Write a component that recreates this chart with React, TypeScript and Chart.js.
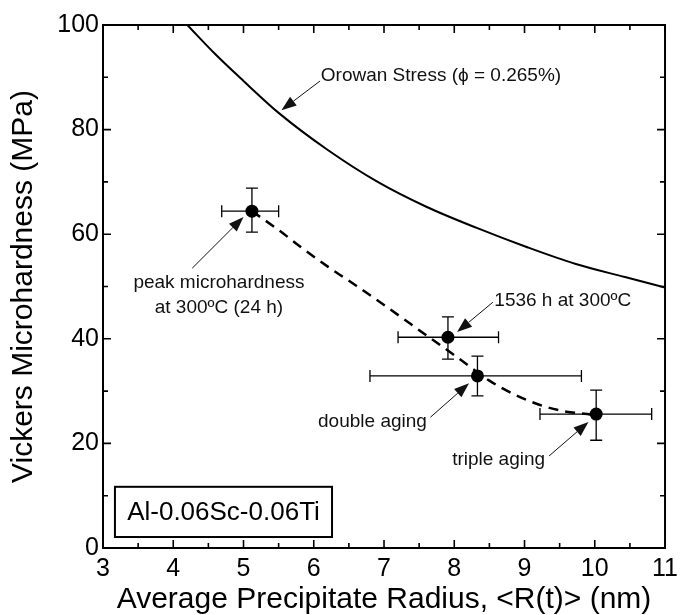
import { useEffect, useRef } from "react";
import { Chart, registerables } from "chart.js";
Chart.register(...registerables);

const FONT = '"Liberation Sans", Arial, Helvetica, sans-serif';

// Axis ticks
const xTicks = [3, 4, 5, 6, 7, 8, 9, 10, 11];
const xMinorTicks = [3.5, 4.5, 5.5, 6.5, 7.5, 8.5, 9.5, 10.5];
const yTicks = [0, 20, 40, 60, 80, 100];
const yMinorTicks = [10, 30, 50, 70, 90];

// Orowan stress curve (phi = 0.265%)
const orowanR = [4.2, 4.6, 5.0, 5.5, 6.2, 6.91, 7.61, 8.32, 9.02, 9.73, 10.43, 11.0];
const orowanHV = [100, 94.4, 89.3, 83.2, 76.1, 70.0, 65.2, 61.2, 57.6, 54.3, 51.8, 49.8];

// Dashed trend line through the measurements
const trendR = [5.12, 5.5, 5.82, 6.2, 6.6, 6.9, 7.3, 7.61, 8.04, 8.5, 8.88, 9.21, 9.54, 9.95];
const trendHV = [64.4, 60.8, 57.5, 53.8, 50.2, 47.4, 43.6, 40.6, 36.5, 32.0, 29.2, 27.4, 26.2, 25.5];

// Measurements with error bars
const sampleR = [5.12, 7.91, 8.33, 10.02];
const sampleHV = [64.4, 40.3, 32.9, 25.6];
const rLow = [4.69, 7.2, 6.8, 9.22];
const rHigh = [5.5, 8.63, 9.81, 10.81];
const hvLow = [60.4, 36.1, 29.1, 20.6];
const hvHigh = [68.8, 44.2, 36.7, 30.2];

// Annotation texts (positions in data units)
const noteLines = [
  ["Orowan Stress (\u03d5 = 0.265%)"],
  ["peak microhardness", "at 300\u00baC (24 h)"],
  ["1536 h at 300\u00baC"],
  ["double aging"],
  ["triple aging"],
];
const noteAlign = ["left", "center", "left", "right", "left"];
const noteX = [6.1, 4.65, 8.57, 7.61, 7.97];
const noteY = [90.3, 50.7, 47.2, 24.1, 16.8];
const arrowTail = [
  [6.09, 89.3],
  [4.27, 53.5],
  [8.55, 47.0],
  [7.66, 25.0],
  [9.35, 17.6],
];
const arrowTip = [
  [5.54, 83.7],
  [5.0, 63.3],
  [8.04, 41.3],
  [8.21, 31.5],
  [9.91, 24.1],
];

const boxLabel = "Al-0.06Sc-0.06Ti";
const boxR = [3.17, 6.26];
const boxHV = [2.1, 11.7];

const drawArrow = (ctx: CanvasRenderingContext2D, x0: number, y0: number, x1: number, y1: number) => {
  const ang = Math.atan2(y1 - y0, x1 - x0);
  const len = 15;
  const hw = 5.5;
  const bx = x1 - len * Math.cos(ang);
  const by = y1 - len * Math.sin(ang);
  ctx.beginPath();
  ctx.moveTo(x0, y0);
  ctx.lineTo(bx, by);
  ctx.stroke();
  ctx.beginPath();
  ctx.moveTo(x1, y1);
  ctx.lineTo(bx + hw * Math.sin(ang), by - hw * Math.cos(ang));
  ctx.lineTo(bx - hw * Math.sin(ang), by + hw * Math.cos(ang));
  ctx.closePath();
  ctx.fill();
};

const decorPlugin = {
  id: "decor",
  beforeDatasetsDraw(chart: any) {
    const { ctx, scales } = chart;
    const x = scales.x;
    const y = scales.y;
    ctx.save();
    ctx.strokeStyle = "#000";
    ctx.lineWidth = 1.3;
    const cap = 6;
    for (let i = 0; i < sampleR.length; i++) {
      const cx = x.getPixelForValue(sampleR[i]);
      const cy = y.getPixelForValue(sampleHV[i]);
      const xl = x.getPixelForValue(rLow[i]);
      const xh = x.getPixelForValue(rHigh[i]);
      const yl = y.getPixelForValue(hvLow[i]);
      const yh = y.getPixelForValue(hvHigh[i]);
      ctx.beginPath();
      ctx.moveTo(xl, cy);
      ctx.lineTo(xh, cy);
      ctx.moveTo(xl, cy - cap);
      ctx.lineTo(xl, cy + cap);
      ctx.moveTo(xh, cy - cap);
      ctx.lineTo(xh, cy + cap);
      ctx.moveTo(cx, yl);
      ctx.lineTo(cx, yh);
      ctx.moveTo(cx - cap, yl);
      ctx.lineTo(cx + cap, yl);
      ctx.moveTo(cx - cap, yh);
      ctx.lineTo(cx + cap, yh);
      ctx.stroke();
    }
    ctx.restore();
  },
  afterDatasetsDraw(chart: any) {
    const { ctx, chartArea: a, scales } = chart;
    const x = scales.x;
    const y = scales.y;
    ctx.save();
    ctx.strokeStyle = "#000";
    ctx.fillStyle = "#000";
    // frame
    ctx.lineWidth = 2;
    ctx.strokeRect(a.left, a.top, a.right - a.left, a.bottom - a.top);
    // inward ticks
    ctx.lineWidth = 1.6;
    ctx.beginPath();
    const tick = (vals: number[], len: number) => {
      vals.forEach((v) => {
        const px = x.getPixelForValue(v);
        ctx.moveTo(px, a.bottom);
        ctx.lineTo(px, a.bottom - len);
        ctx.moveTo(px, a.top);
        ctx.lineTo(px, a.top + len);
      });
    };
    const tickY = (vals: number[], len: number) => {
      vals.forEach((v) => {
        const py = y.getPixelForValue(v);
        ctx.moveTo(a.left, py);
        ctx.lineTo(a.left + len, py);
        ctx.moveTo(a.right, py);
        ctx.lineTo(a.right - len, py);
      });
    };
    tick(xTicks, 8);
    tick(xMinorTicks, 5);
    tickY(yTicks, 8);
    tickY(yMinorTicks, 5);
    ctx.stroke();

    // annotations
    ctx.lineWidth = 1;
    ctx.strokeStyle = "#111";
    ctx.fillStyle = "#111";
    for (let i = 0; i < noteLines.length; i++) {
      drawArrow(
        ctx,
        x.getPixelForValue(arrowTail[i][0]),
        y.getPixelForValue(arrowTail[i][1]),
        x.getPixelForValue(arrowTip[i][0]),
        y.getPixelForValue(arrowTip[i][1])
      );
    }
    ctx.font = `19px ${FONT}`;
    ctx.textBaseline = "middle";
    for (let i = 0; i < noteLines.length; i++) {
      ctx.textAlign = noteAlign[i] as CanvasTextAlign;
      const tx = x.getPixelForValue(noteX[i]);
      let ty = y.getPixelForValue(noteY[i]);
      noteLines[i].forEach((line) => {
        ctx.fillText(line, tx, ty);
        ty += 25;
      });
    }

    // sample box
    const bl = x.getPixelForValue(boxR[0]);
    const br = x.getPixelForValue(boxR[1]);
    const bt = y.getPixelForValue(boxHV[1]);
    const bb = y.getPixelForValue(boxHV[0]);
    ctx.strokeStyle = "#000";
    ctx.fillStyle = "#000";
    ctx.lineWidth = 2;
    ctx.strokeRect(bl, bt, br - bl, bb - bt);
    ctx.font = `26px ${FONT}`;
    ctx.textAlign = "center";
    ctx.fillText(boxLabel, (bl + br) / 2, (bt + bb) / 2 + 1);
    ctx.restore();
  },
};

export default function App() {
  const ref = useRef<HTMLCanvasElement>(null);
  useEffect(() => {
    document.body.style.margin = "0";
    const canvas = ref.current;
    if (!canvas) return;
    const chart = new Chart(canvas, {
      type: "scatter",
      data: {
        datasets: [
          {
            label: "Orowan Stress",
            data: orowanR.map((r, i) => ({ x: r, y: orowanHV[i] })),
            showLine: true,
            borderColor: "#000",
            borderWidth: 2,
            pointRadius: 0,
            cubicInterpolationMode: "monotone",
          },
          {
            label: "trend",
            data: trendR.map((r, i) => ({ x: r, y: trendHV[i] })),
            showLine: true,
            borderColor: "#000",
            borderWidth: 2.5,
            borderDash: [10, 7],
            pointRadius: 0,
            cubicInterpolationMode: "monotone",
          },
          {
            label: "samples",
            data: sampleR.map((r, i) => ({ x: r, y: sampleHV[i] })),
            showLine: false,
            pointRadius: 6.5,
            backgroundColor: "#000",
            borderColor: "#000",
            borderWidth: 0,
          },
        ],
      },
      options: {
        animation: false,
        responsive: false,
        devicePixelRatio: 1,
        layout: { padding: { top: 25, right: 14, left: 0, bottom: 0 } },
        plugins: { legend: { display: false }, tooltip: { enabled: false } },
        scales: {
          x: {
            type: "linear",
            min: 3,
            max: 11,
            afterBuildTicks: (s: any) => {
              s.ticks = xTicks.map((v) => ({ value: v }));
            },
            afterFit: (s: any) => {
              s.height = 67;
            },
            grid: { display: false, drawTicks: false },
            border: { display: false },
            ticks: {
              font: { family: FONT, size: 25 },
              color: "#000",
              padding: 6,
              maxRotation: 0,
              autoSkip: false,
            },
            title: {
              display: true,
              text: "Average Precipitate Radius, <R(t)> (nm)",
              font: { family: FONT, size: 30, lineHeight: 1 },
              color: "#000",
              padding: 0,
            },
          },
          y: {
            type: "linear",
            min: 0,
            max: 100,
            afterBuildTicks: (s: any) => {
              s.ticks = yTicks.map((v) => ({ value: v }));
            },
            afterFit: (s: any) => {
              s.width = 103;
            },
            grid: { display: false, drawTicks: false },
            border: { display: false },
            ticks: {
              font: { family: FONT, size: 25 },
              color: "#000",
              padding: 4,
              autoSkip: false,
            },
            title: {
              display: true,
              text: "Vickers Microhardness (MPa)",
              font: { family: FONT, size: 30, lineHeight: 1 },
              color: "#000",
              padding: { top: 9, bottom: 0 },
            },
          },
        },
      } as any,
      plugins: [decorPlugin],
    });
    return () => chart.destroy();
  }, []);
  return (
    <div style={{ width: 684, height: 615 }}>
      <canvas ref={ref} width={684} height={615} style={{ display: "block" }} />
    </div>
  );
}
